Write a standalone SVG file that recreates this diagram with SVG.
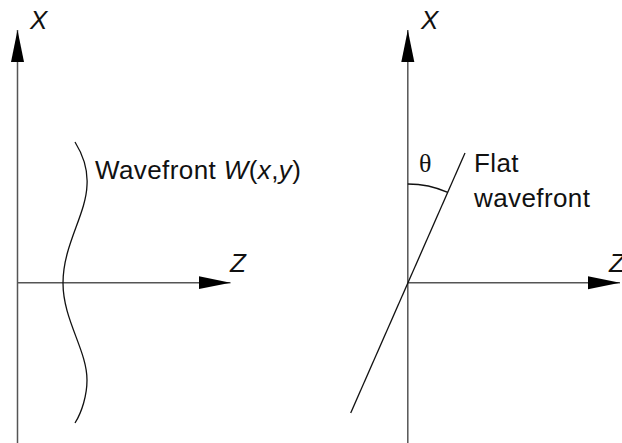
<svg xmlns="http://www.w3.org/2000/svg" width="622" height="443" viewBox="0 0 622 443">
  <style>
    .axis { stroke: #555; stroke-width: 1.5; fill: none; }
    .curve { stroke: #111; stroke-width: 1.3; fill: none; }
    .lbl { font-family: "Liberation Sans", Arial, sans-serif; font-size: 26px; letter-spacing: 0.4px; fill: #111; }
    .it { font-style: italic; }
    .theta { font-family: "Liberation Serif", "Times New Roman", serif; font-size: 26px; fill: #111; }
  </style>
  <defs>
    <marker id="arrow" markerUnits="userSpaceOnUse" markerWidth="34" markerHeight="14" refX="32" refY="6.5" orient="auto">
      <path d="M0,0 L32,6.5 L0,13 z" fill="#000"/>
    </marker>
  </defs>
  <rect width="622" height="443" fill="#fff"/>
  <g id="connectors">
    <line class="axis" x1="17.5" y1="443" x2="17.5" y2="30" marker-end="url(#arrow)"/>
    <line class="axis" x1="17.5" y1="282.7" x2="230.5" y2="282.7" marker-end="url(#arrow)"/>
    <line class="axis" x1="407.8" y1="443" x2="407.8" y2="30" marker-end="url(#arrow)"/>
    <line class="axis" x1="407.8" y1="282.7" x2="620" y2="282.7" marker-end="url(#arrow)"/>
  </g>
  <g id="left-labels">
    <text class="lbl it" x="30" y="29">X</text>
    <text class="lbl it" x="230" y="272">Z</text>
  </g>
  <g id="wavefront">
    <path class="curve" d="M75,142 C83,155 88,170 87,185 C86,215 63,245 63,283 C63,320 87,350 87,380 C87,395 82,412 75,423"/>
    <text class="lbl" x="95" y="178.5">Wavefront <tspan class="it">W</tspan>(<tspan class="it">x</tspan>,<tspan class="it">y</tspan>)</text>
  </g>
  <g id="right-labels">
    <text class="lbl it" x="421" y="29">X</text>
    <text class="lbl it" x="609" y="272">Z</text>
  </g>
  <g id="flat-wavefront">
    <line class="curve" x1="350.7" y1="413" x2="465" y2="153"/>
    <path class="curve" d="M407.8,184 A99,99 0 0 1 447.8,192.4"/>
    <text class="theta" x="419" y="172">θ</text>
    <text class="lbl" x="474" y="172">Flat</text>
    <text class="lbl" x="474" y="206.5">wavefront</text>
  </g>
</svg>
